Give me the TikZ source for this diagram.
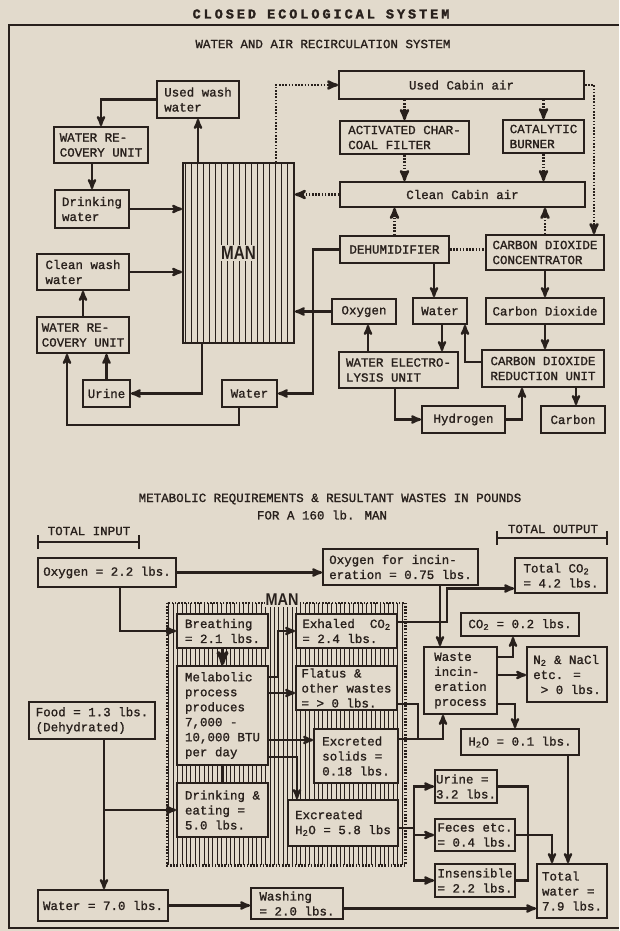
\documentclass[tikz,border=0pt]{standalone}
\usepackage{fontspec}
\setmainfont[FakeBold=1.2,AutoFakeBold=1.2]{Liberation Mono}
\newfontfamily\headfont[LetterSpace=22,FakeBold=2]{Liberation Mono}
\newfontfamily\manfont{Liberation Sans}
\usetikzlibrary{arrows}
\definecolor{paper}{RGB}{226,218,204}
\definecolor{ink}{RGB}{40,32,28}

\begin{document}
\begin{tikzpicture}[x=1pt,y=-1pt,>=stealth',
  every node/.style={font=\fontsize{12.5}{15}\selectfont,text=ink},
  blk/.style={draw=ink,fill=paper,line width=1.8pt,align=left,inner xsep=2pt,inner ysep=1pt},
  flow/.style={->,draw=ink,line width=2.3pt},
  air/.style={->,draw=ink,line width=2.6pt,dash pattern=on 1.6pt off 1.6pt},
  hatch/.style={draw=ink,line width=0.8pt},
  manlabel/.style={font=\manfont\bfseries\fontsize{19}{20}\selectfont,fill=paper,inner sep=1pt}]
\useasboundingbox (0,0) rectangle (619,931);
\fill[paper] (0,0) rectangle (619,931);
\draw[ink,line width=2.8pt] (619,25) -- (9,25) -- (9,928) -- (619,928);

% headings
\node[font={\headfont\bfseries\fontsize{13.5}{15}\selectfont}] (title) at (321,14) {CLOSED ECOLOGICAL SYSTEM};
\node (airtitle) at (323,44) {WATER AND AIR RECIRCULATION SYSTEM};

% water and air recirculation
\node[draw=ink,line width=1.8pt,minimum width=111,minimum height=180] (man) at (238.5,253) {};
\foreach \k in {0,...,17}
  \draw[hatch] ([xshift={\k*6+3}]man.north west) -- ([xshift={\k*6+3}]man.south west);
\node[manlabel] (manlbl) at (man) {\scalebox{0.8}[1]{MAN}};

\node[blk,minimum width=82,minimum height=37] (usedwash) at (198,99.5) {Used wash\\water};
\node[blk,minimum width=245,minimum height=28] (cabinused) at (461.5,85) {Used Cabin air};
\node[blk,minimum width=129,minimum height=33] (charcoal) at (404.5,137.5) {ACTIVATED CHAR-\\COAL FILTER};
\node[blk,minimum width=81,minimum height=33] (burner) at (543.5,136.5) {CATALYTIC\\BURNER};
\node[blk,minimum width=94,minimum height=36] (wrtop) at (101,145) {WATER RE-\\COVERY UNIT};
\node[blk,minimum width=74,minimum height=38] (drinking) at (92,209) {Drinking\\water};
\node[blk,minimum width=245,minimum height=25] (cabinclean) at (462.5,194.5) {Clean Cabin air};
\node[blk,minimum width=92,minimum height=36] (cleanwash) at (83,272) {Clean wash\\water};
\node[blk,minimum width=109,minimum height=27] (dehum) at (394.5,249.5) {DEHUMIDIFIER};
\node[blk,minimum width=118,minimum height=35] (co2conc) at (545,252.5) {CARBON DIOXIDE\\CONCENTRATOR};
\node[blk,minimum width=64,minimum height=25] (oxygen) at (364,311.5) {Oxygen};
\node[blk,minimum width=54,minimum height=26] (waterR) at (440,311) {Water};
\node[blk,minimum width=118,minimum height=26] (co2) at (545,311) {Carbon Dioxide};
\node[blk,minimum width=92,minimum height=36] (wrbot) at (83,335) {WATER RE-\\COVERY UNIT};
\node[blk,minimum width=119,minimum height=36] (electro) at (398.5,370) {WATER ELECTRO-\\LYSIS UNIT};
\node[blk,minimum width=122,minimum height=37] (reduct) at (543,368.5) {CARBON DIOXIDE\\REDUCTION UNIT};
\node[blk,minimum width=47,minimum height=27] (urine) at (106.5,393.5) {Urine};
\node[blk,minimum width=55,minimum height=27] (waterL) at (249.5,393.5) {Water};
\node[blk,minimum width=83,minimum height=27] (hydrogen) at (463.5,419.5) {Hydrogen};
\node[blk,minimum width=64,minimum height=27] (carbon) at (573,419.5) {Carbon};

\draw[flow] (man.north -| usedwash.south) -- (usedwash.south);
\draw[flow] (usedwash.west) -| (wrtop.north);
\draw[flow] (wrtop.south -| drinking.north) -- (drinking.north);
\draw[flow] (drinking.east) -- (drinking.east -| man.west);
\draw[flow] (cleanwash.east) -- (cleanwash.east -| man.west);
\draw[flow] (wrbot.north) -- (cleanwash.south);
\draw[flow] (urine.north) -- (urine.north |- wrbot.south);
\draw[flow] ([xshift=-36.5]man.south) |- (urine.east);
\draw[flow] ([xshift=-10.5]waterL.south) -- ++(0,17) -| ([xshift=-16]wrbot.south);
\draw[flow] (dehum.west) -- ++(-26,0) |- (waterL.east);
\draw[flow] (oxygen.west) -- (oxygen.west -| man.east);
\draw[air] ([xshift=37.5]man.north) |- (cabinused.west);
\draw[air] (cabinused.east) -| ([xshift=49]co2conc.north);
\draw[air] (cabinused.south -| charcoal.north) -- (charcoal.north);
\draw[air] (cabinused.south -| burner.north) -- (burner.north);
\draw[air] (charcoal.south) -- (charcoal.south |- cabinclean.north);
\draw[air] (burner.south) -- (burner.south |- cabinclean.north);
\draw[air] (cabinclean.west) -- (cabinclean.west -| man.east);
\draw[air] (dehum.north) -- (dehum.north |- cabinclean.south);
\draw[air] (co2conc.north) -- (co2conc.north |- cabinclean.south);
\draw[air,-] (dehum.east) -- (dehum.east -| co2conc.west);
\draw[flow] ([xshift=-6]waterR.north |- dehum.south) -- ([xshift=-6]waterR.north);
\draw[flow] (co2conc.south) -- (co2.north);
\draw[flow] (co2.south) -- (co2.south |- reduct.north);
\draw[flow] ([xshift=4]oxygen.south |- electro.north) -- ([xshift=4]oxygen.south);
\draw[flow] ([xshift=2]waterR.south) -- ([xshift=2]waterR.south |- electro.north);
\draw[flow] ([yshift=6.5]reduct.west) -| ([xshift=25]waterR.south);
\draw[flow] ([xshift=-3.5]electro.south) |- (hydrogen.west);
\draw[flow] (hydrogen.east) -| ([xshift=-21]reduct.south);
\draw[flow] ([xshift=3]carbon.north |- reduct.south) -- ([xshift=3]carbon.north);

% metabolic requirements
\node (metatitle) at (330,499) {METABOLIC REQUIREMENTS \& RESULTANT WASTES IN POUNDS};
\node (metasub) at (322,515) {FOR A 160 lb. MAN};
\node (totin) at (89,531) {TOTAL INPUT};
\node (totout) at (553,529) {TOTAL OUTPUT};
\draw[ink,line width=1.8pt] (38,535) -- (38,549) (38,542) -- (139,542) (139,535) -- (139,549);
\draw[ink,line width=1.8pt] (497,531) -- (497,545) (497,538) -- (607,538) (607,531) -- (607,545);

\node[minimum width=238,minimum height=262,inner sep=0pt] (manzone) at (286,734) {};
\foreach \k in {0,...,53}
  \draw[hatch] ([xshift={\k*4.4+2}]manzone.north west) -- ([xshift={\k*4.4+2}]manzone.south west);
\draw[ink,line width=2.6pt,dash pattern=on 1.6pt off 1.6pt] (manzone.north west) rectangle (manzone.south east);
\node[manlabel,font=\manfont\bfseries\fontsize{17}{18}\selectfont] (manlbl2) at (282,600) {\scalebox{0.85}[1]{MAN}};

\node[blk,minimum width=138,minimum height=29] (oxy22) at (107,572.5) {Oxygen = 2.2 lbs.};
\node[blk,minimum width=155,minimum height=36] (oxyinc) at (400.5,567) {Oxygen for incin-\\eration = 0.75 lbs.};
\node[blk,minimum width=92,minimum height=35] (totco2) at (561,575.5) {Total CO\textsubscript{2}\\= 4.2 lbs.};
\node[blk,minimum width=91,minimum height=34] (breath) at (222.5,631) {Breathing\\= 2.1 lbs.};
\node[blk,minimum width=101,minimum height=34] (exhaled) at (346.5,631) {Exhaled~~CO\textsubscript{2}\\= 2.4 lbs.};
\node[blk,minimum width=118,minimum height=23] (co202) at (520,624.5) {CO\textsubscript{2} = 0.2 lbs.};
\node[blk,minimum width=73,minimum height=67] (waste) at (460.5,680.5) {Waste\\incin-\\eration\\process};
\node[blk,minimum width=80,minimum height=55] (n2) at (567,674.5) {N\textsubscript{2} \& NaCl\\etc. =\\~> 0 lbs.};
\node[blk,minimum width=91,minimum height=99] (melab) at (222.5,715.5) {Melabolic\\process\\produces\\7,000 -\\10,000 BTU\\per day};
\node[blk,minimum width=101,minimum height=44] (flatus) at (346.5,688) {Flatus \&\\other wastes\\= > 0 lbs.};
\node[blk,minimum width=126,minimum height=37] (food) at (92,720.5) {Food = 1.3 lbs.\\(Dehydrated)};
\node[blk,minimum width=84,minimum height=54] (solids) at (356,756) {Excreted\\solids =\\0.18 lbs.};
\node[blk,minimum width=118,minimum height=26] (h2o01) at (520,742) {H\textsubscript{2}O = 0.1 lbs.};
\node[blk,minimum width=62,minimum height=33,inner xsep=1pt] (urineB) at (466,786.5) {Urine =\\3.2 lbs.};
\node[blk,minimum width=91,minimum height=54] (drinkeat) at (222.5,810) {Drinking \&\\eating =\\5.0 lbs.};
\node[blk,minimum width=110,minimum height=46] (excreated) at (343,823) {Excreated\\H\textsubscript{2}O = 5.8 lbs};
\node[blk,minimum width=80,minimum height=32] (feces) at (475,835) {Feces etc.\\= 0.4 lbs.};
\node[blk,minimum width=80,minimum height=33] (insens) at (475,880.5) {Insensible\\= 2.2 lbs.};
\node[blk,minimum width=70,minimum height=54] (totwater) at (572,891) {Total\\water =\\7.9 lbs.};
\node[blk,minimum width=130,minimum height=31] (water70) at (103,905.5) {Water = 7.0 lbs.};
\node[blk,minimum width=92,minimum height=31] (washing) at (297,903.5) {Washing\\= 2.0 lbs.};

\draw[flow] (oxy22.east) -- (oxy22.east -| oxyinc.west);
\draw[flow] ([xshift=13]oxy22.south) |- (breath.west);
\draw[flow,line width=3.5pt] (breath.south) -- (melab.north);
\draw[ink,line width=3.5pt] (melab.south) -- (drinkeat.north);
\draw[flow] ([yshift=38.5]melab.east) -- ++(9,0) |- (exhaled.west);
\draw[flow] ([yshift=22.5]melab.east) -- ([yshift=22.5]melab.east -| flatus.west);
\draw[flow] ([yshift=-24.5]melab.east) -- ([yshift=-24.5]melab.east -| solids.west);
\draw[flow] ([yshift=-41.5]melab.east) -| ([xshift=-46]excreated.north);
\draw[flow] ([xshift=12]food.south) -- ([xshift=12]food.south |- water70.north);
\draw[flow] ([xshift=12]food.south |- drinkeat.west) -- (drinkeat.west);
\draw[flow] (water70.east) -- (water70.east -| washing.west);
\draw[flow] ([yshift=-5]washing.east) -- ([yshift=-5]washing.east -| totwater.west);
\draw[flow] ([xshift=-20.5]waste.north |- oxyinc.south) -- ([xshift=-20.5]waste.north);
\draw[flow] ([yshift=9]exhaled.east) -- ++(49,0) |- ([yshift=-13]totco2.west);
\draw[flow] ([yshift=23.5]waste.east) -| ([xshift=-7]co202.south);
\draw[flow] ([yshift=5.5]waste.east) -- ([yshift=5.5]waste.east -| n2.west);
\draw[flow] ([yshift=-23.5]waste.east) -| ([xshift=-5]h2o01.north);
\draw[ink,line width=2.3pt] ([yshift=-16]flatus.east) -| ([yshift=17,xshift=19]solids.east);
\draw[flow] ([yshift=17]solids.east) -| ([xshift=-17.5]waste.south);
\draw[ink,line width=2.3pt] ([yshift=-5]excreated.east) -- ++(15,0) coordinate (split);
\draw[flow] (split) |- (urineB.west);
\draw[flow] (split) |- (feces.west);
\draw[flow] (split) |- (insens.west);
\draw[ink,line width=2.3pt] (urineB.east) -- ++(30,0) |- (insens.east);
\draw[flow] (feces.east) -| ([xshift=-20]totwater.north);
\draw[flow] ([xshift=48]h2o01.south) -- ([xshift=48]h2o01.south |- totwater.north);
\end{tikzpicture}
\end{document}
